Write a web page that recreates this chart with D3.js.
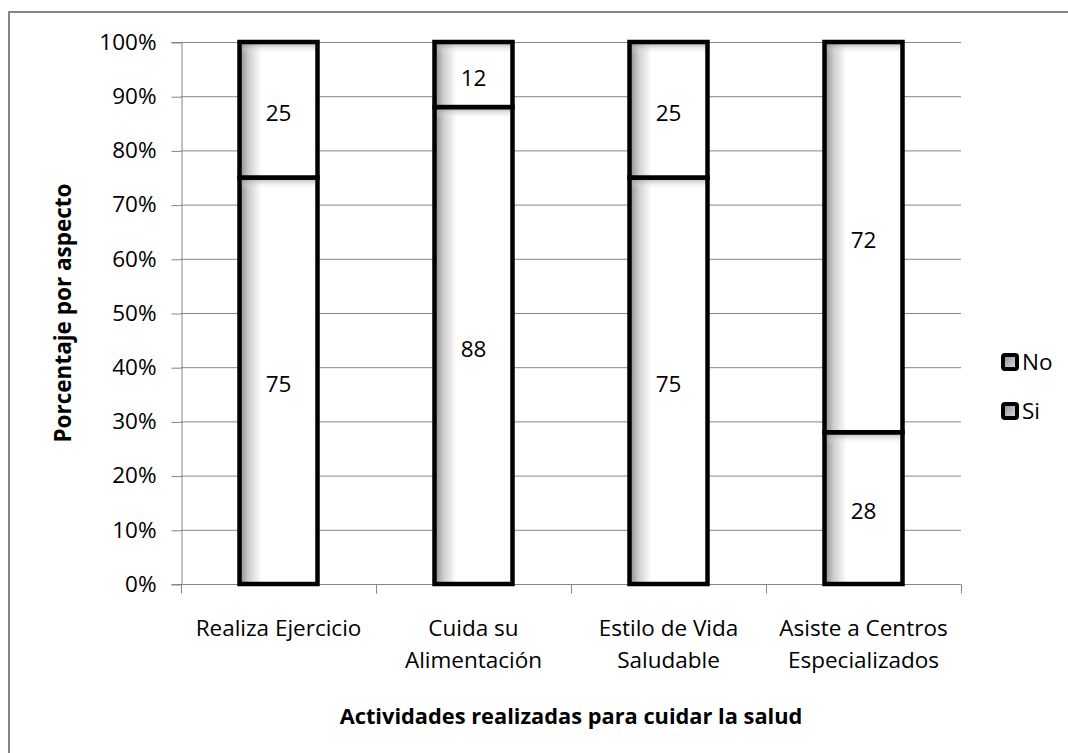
<!DOCTYPE html>
<html>
<head>
<meta charset="utf-8">
<script src="https://cdn.jsdelivr.net/npm/d3@7"></script>
<style>
  html, body { margin: 0; padding: 0; background: #fff; }
  svg { display: block; }
  text { font-family: "Open Sans", "Liberation Sans", sans-serif; fill: #000; }
</style>
</head>
<body>
<svg id="chart" width="1068" height="753"></svg>
<script>
// Activities and the share (%) answering "Si" / "No"
const categories = [
  ["Realiza Ejercicio"],
  ["Cuida su", "Alimentación"],
  ["Estilo de Vida", "Saludable"],
  ["Asiste a Centros", "Especializados"]
];
const siValues = [75, 88, 75, 28];
const noValues = [25, 12, 25, 72];
const seriesNames = ["Si", "No"];
const yTicks = [0, 10, 20, 30, 40, 50, 60, 70, 80, 90, 100];

const svg = d3.select("#chart");
const W = 1068, H = 753;
const plot = { left: 181, right: 961, top: 42, bottom: 584 };
const FS = 22.5;

// Outer chart frame
svg.append("rect")
  .attr("x", 9).attr("y", 12)
  .attr("width", W).attr("height", H)
  .attr("fill", "#fff")
  .attr("stroke", "#868686").attr("stroke-width", 2);

// Gradients: soft grey shading along the left and top inner edges of each bar
const defs = svg.append("defs");
const gH = defs.append("linearGradient").attr("id", "shadeH")
  .attr("x1", "0").attr("x2", "1").attr("y1", "0").attr("y2", "0");
gH.append("stop").attr("offset", "0").attr("stop-color", "#8a8a8a");
gH.append("stop").attr("offset", "0.12").attr("stop-color", "#cfcfcf");
gH.append("stop").attr("offset", "0.28").attr("stop-color", "#ffffff");
gH.append("stop").attr("offset", "1").attr("stop-color", "#ffffff");

const gV = defs.append("linearGradient").attr("id", "shadeV")
  .attr("x1", "0").attr("x2", "0").attr("y1", "0").attr("y2", "1");
gV.append("stop").attr("offset", "0").attr("stop-color", "#808080").attr("stop-opacity", 0.7);
gV.append("stop").attr("offset", "1").attr("stop-color", "#ffffff").attr("stop-opacity", 0);

const gL = defs.append("linearGradient").attr("id", "shadeLeg")
  .attr("x1", "0").attr("x2", "1").attr("y1", "0").attr("y2", "1");
gL.append("stop").attr("offset", "0").attr("stop-color", "#8c8c8c");
gL.append("stop").attr("offset", "1").attr("stop-color", "#e0e0e0");

// Scales
const x = d3.scaleBand()
  .domain(d3.range(categories.length))
  .range([plot.left, plot.right])
  .paddingInner(0.6).paddingOuter(0.3);
const xOuter = d3.scaleBand()
  .domain(d3.range(categories.length))
  .range([plot.left, plot.right]);
const y = d3.scaleLinear().domain([0, 100]).range([plot.bottom, plot.top]);

// Horizontal gridlines
svg.append("g")
  .selectAll("line").data(yTicks.filter(t => t > 0)).join("line")
  .attr("x1", plot.left).attr("x2", plot.right)
  .attr("y1", d => y(d) + 0.5).attr("y2", d => y(d) + 0.5)
  .attr("stroke", "#868686").attr("stroke-width", 1);

// Y axis
const yAxis = svg.append("g")
  .attr("transform", `translate(${plot.left + 0.5},0)`)
  .call(d3.axisLeft(y).tickValues(yTicks).tickFormat(d => d + "%").tickSize(10).tickPadding(15));
yAxis.select(".domain").attr("stroke", "#868686");
yAxis.selectAll(".tick line").attr("stroke", "#868686").attr("transform", "translate(0,0.5)");
yAxis.selectAll(".tick text")
  .style("font-family", "'Open Sans', sans-serif")
  .attr("font-size", FS).attr("fill", "#000");

// X axis: baseline with tick marks at category boundaries
const xAxis = svg.append("g")
  .attr("transform", `translate(0,${plot.bottom + 0.5})`);
xAxis.append("line")
  .attr("x1", plot.left).attr("x2", plot.right)
  .attr("stroke", "#868686");
xAxis.selectAll("line.tick")
  .data(d3.range(categories.length + 1)).join("line")
  .attr("class", "tick")
  .attr("x1", i => (i < categories.length ? xOuter(i) : plot.right) + 0.5)
  .attr("x2", i => (i < categories.length ? xOuter(i) : plot.right) + 0.5)
  .attr("y1", 0).attr("y2", 9)
  .attr("stroke", "#868686");

// Category labels
const catLabels = svg.append("g");
categories.forEach((lines, i) => {
  const cx = x(i) + x.bandwidth() / 2;
  const t = catLabels.append("text")
    .attr("x", cx).attr("y", 636)
    .attr("text-anchor", "middle")
    .attr("font-size", FS);
  lines.forEach((ln, k) => {
    t.append("tspan").attr("x", cx).attr("dy", k === 0 ? 0 : 32).text(ln);
  });
});

// Stacked segments
const stackData = categories.map((c, i) => ({ i, Si: siValues[i], No: noValues[i] }));
const stack = d3.stack().keys(seriesNames)(stackData);

const segs = [];
stack.forEach(layer => {
  layer.forEach((d, i) => {
    segs.push({ key: layer.key, i, y0: d[0], y1: d[1], value: d.data[layer.key] });
  });
});

const barG = svg.append("g");
const segG = barG.selectAll("g.seg").data(segs).join("g").attr("class", "seg");

segG.append("rect")
  .attr("x", d => x(d.i))
  .attr("y", d => y(d.y1))
  .attr("width", x.bandwidth())
  .attr("height", d => y(d.y0) - y(d.y1))
  .attr("fill", "url(#shadeH)");

segG.append("rect")
  .attr("x", d => x(d.i))
  .attr("y", d => y(d.y1))
  .attr("width", x.bandwidth())
  .attr("height", d => Math.min(12, y(d.y0) - y(d.y1)))
  .attr("fill", "url(#shadeV)");

segG.append("rect")
  .attr("x", d => x(d.i))
  .attr("y", d => y(d.y1))
  .attr("width", x.bandwidth())
  .attr("height", d => y(d.y0) - y(d.y1))
  .attr("fill", "none")
  .attr("stroke", "#000").attr("stroke-width", 4.5);

// Value labels
segG.append("text")
  .attr("x", d => x(d.i) + x.bandwidth() / 2)
  .attr("y", d => y((d.y0 + d.y1) / 2) + 3)
  .attr("dy", "0.36em")
  .attr("text-anchor", "middle")
  .attr("font-size", FS)
  .text(d => d.value);

// Legend (No above Si)
const legendItems = ["No", "Si"];
const legendY = [362, 411];
const leg = svg.append("g");
legendItems.forEach((name, k) => {
  const g = leg.append("g").attr("transform", `translate(1003,${legendY[k]})`);
  g.append("rect")
    .attr("x", 0).attr("y", -7).attr("width", 14).attr("height", 14)
    .attr("rx", 2)
    .attr("fill", "url(#shadeLeg)")
    .attr("stroke", "#000").attr("stroke-width", 4);
  g.append("text")
    .attr("x", 19).attr("y", 0).attr("dy", "0.36em")
    .attr("font-size", FS)
    .text(name);
});

// Axis titles
svg.append("text")
  .attr("x", (plot.left + plot.right) / 2)
  .attr("y", 716).attr("dy", "0.36em")
  .attr("text-anchor", "middle")
  .attr("font-size", 21.8).attr("font-weight", "bold")
  .text("Actividades realizadas para cuidar la salud");

svg.append("text")
  .attr("transform", `translate(63,${(plot.top + plot.bottom) / 2}) rotate(-90)`)
  .attr("dy", "0.36em")
  .attr("text-anchor", "middle")
  .attr("font-size", 22.5).attr("font-weight", "bold")
  .text("Porcentaje por aspecto");
</script>
</body>
</html>
